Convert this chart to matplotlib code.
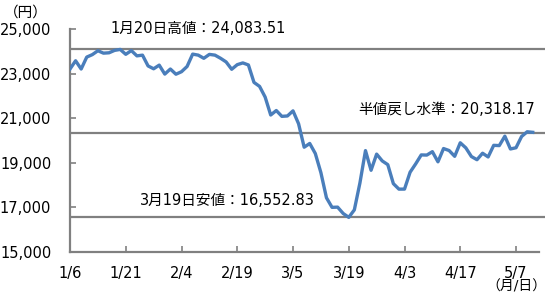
import matplotlib
matplotlib.use("Agg")
import matplotlib.pyplot as plt
import numpy as np

plt.rcParams['font.family'] = ['DejaVu Sans', 'Noto Sans CJK JP']

# Nikkei closes, 2020/1/6 .. 2020/5/12 (trading days)
closes = [23204.86, 23575.72, 23204.76, 23739.87, 23850.57, 24025.17, 23916.58, 23933.13, 24041.26, 24083.51,
          23864.56, 24031.35, 23795.44, 23827.18, 23343.51, 23215.71, 23379.40, 22977.75, 23205.18, 22971.94,
          23084.59, 23319.56, 23873.59, 23827.98, 23685.98, 23861.21, 23827.73, 23687.59, 23523.24, 23193.80,
          23400.70, 23479.15, 23386.74, 22605.41, 22426.19, 21948.23, 21142.96, 21344.08, 21082.73, 21100.06,
          21329.12, 20749.75, 19698.76, 19867.12, 19416.06, 18559.63, 17431.05, 17002.04, 17011.53, 16726.55,
          16552.83, 16887.78, 18092.35, 19546.63, 18664.60, 19389.43, 19084.97, 18917.01, 18065.41, 17818.72,
          17820.19, 18576.30, 18950.18, 19353.24, 19345.77, 19498.50, 19043.40, 19638.81, 19550.09, 19290.20,
          19897.26, 19669.12, 19280.78, 19137.95, 19429.44, 19262.00, 19783.22, 19771.19, 20193.69, 19619.35,
          19674.77, 20179.09, 20390.66, 20366.48]
tick_pos = [0, 10, 20, 30, 40, 50, 60, 70, 80]
tick_labels = ['1/6', '1/21', '2/4', '2/19', '3/5', '3/19', '4/3', '4/17', '5/7']
high = 24083.51
low = 16552.83
half = 20318.17

line_col = '#4a7ebb'
grey = '#808080'
fs = 10.5

fig = plt.figure(figsize=(5.5, 2.98), dpi=100)
ax = fig.add_axes([0.1273, 0.1544, 0.8636, 0.7483])

x = np.arange(len(closes))
ax.plot(x, closes, color=line_col, lw=2.4, solid_joinstyle='round', zorder=3)

for lv in [high, half, low]:
    ax.axhline(lv, color=grey, lw=1.6, zorder=2)

ax.set_xlim(0, 85.2)
ax.set_ylim(15000, 25000)
ax.set_xticks(tick_pos)
ax.set_xticklabels(tick_labels, fontsize=fs)
ax.set_yticks(np.arange(15000, 25001, 2000))
ax.set_yticklabels([f'{v:,}' for v in range(15000, 25001, 2000)], fontsize=fs)
ax.tick_params(direction='in', length=4, width=1.2, color=grey)
ax.tick_params(axis='y', pad=13.5)
ax.tick_params(axis='x', pad=10)

for s in ['top', 'right']:
    ax.spines[s].set_visible(False)
for s in ['left', 'bottom']:
    ax.spines[s].set_color(grey)
    ax.spines[s].set_linewidth(1.6)
ax.spines['bottom'].set_bounds(0, 84.1)

ax.text(7.2, 25000, f'1月20日高値：{high:,.2f}', fontsize=fs, va='center', ha='left', clip_on=False)
ax.text(51.7, 21370, f'半値戻し水準：{half:,.2f}', fontsize=fs, va='center', ha='left')
ax.text(12.6, 17330, f'3月19日安値：{low:,.2f}', fontsize=fs, va='center', ha='left')

fig.text(26 / 550, 1 - 12 / 298, '（円）', fontsize=fs, ha='center', va='center')
fig.text(547 / 550, 1 - 287 / 298, '（月/日）', fontsize=10, ha='right', va='center')

fig.savefig('out.png', dpi=100)
